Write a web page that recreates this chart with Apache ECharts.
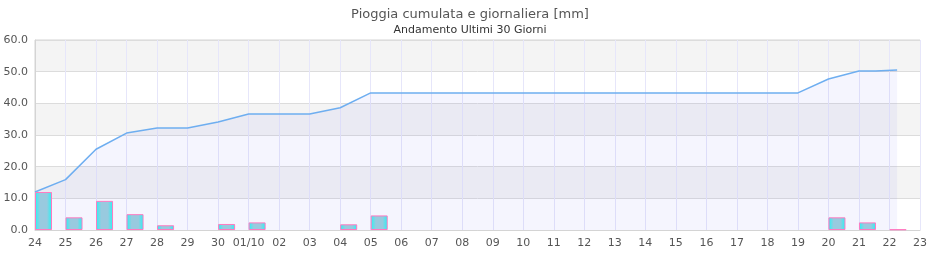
<!DOCTYPE html>
<html>
<head>
<meta charset="utf-8">
<script src="https://cdn.jsdelivr.net/npm/echarts@6/dist/echarts.min.js"></script>
<style>html,body{margin:0;padding:0;background:#fff}#c{width:940px;height:260px}</style>
</head>
<body>
<div id="c"></div>
<script>
// Day labels (24 Sep .. 23 Oct)
const dayLabels = ['24','25','26','27','28','29','30','01/10','02','03','04','05','06','07','08','09','10','11','12','13','14','15','16','17','18','19','20','21','22','23'];
// Daily rain [mm] per day index (null = no rain)
const dailyRain = [12.0,4.0,9.2,5.0,1.5,null,1.9,2.4,null,null,1.8,4.6,null,null,null,null,null,null,null,null,null,null,null,null,null,null,4.0,2.4,0.2];
// Cumulative rain: [day index (fractional = hour of day), mm]
const cumX = [0,1,2,3,4,5,6,7,8,9,10,11,12,13,14,15,16,17,18,19,20,21,22,23,24,25,26,27,27.55,27.6,28.25];
const cumY = [12.0,15.9,25.5,30.6,32.2,32.2,34.1,36.6,36.6,36.6,38.6,43.3,43.3,43.3,43.3,43.3,43.3,43.3,43.3,43.3,43.3,43.3,43.3,43.3,43.3,43.3,47.7,50.2,50.2,50.5,50.5];
const yTicks = [0,10,20,30,40,50,60];

const chart = echarts.init(document.getElementById('c'), null, {renderer:'canvas'});
const font = 'DejaVu Sans';
chart.setOption({
  animation:false,
  title:[
    {text:'Pioggia cumulata e giornaliera [mm]', left:'center', top:3,
     textStyle:{fontFamily:font, fontSize:13, fontWeight:'normal', color:'#555'}},
    {text:'Andamento Ultimi 30 Giorni', left:'center', top:20,
     textStyle:{fontFamily:font, fontSize:11, fontWeight:'normal', color:'#333'}}
  ],
  grid:{left:35, right:20, top:40, bottom:30, show:true, borderColor:'#d4d4d4', borderWidth:1},
  xAxis:{type:'value', min:0, max:dayLabels.length-1, interval:1,
    axisLine:{show:true, lineStyle:{color:'#d4d4d4'}},
    axisTick:{show:false},
    axisLabel:{fontFamily:font, fontSize:11, color:'#555', margin:8,
      formatter:v=>dayLabels[Math.round(v)] || ''},
    splitLine:{show:true, lineStyle:{color:'#e6e6fa', width:1}}
  },
  yAxis:{type:'value', min:yTicks[0], max:yTicks[yTicks.length-1], interval:10,
    axisLine:{show:true, lineStyle:{color:'#d4d4d4'}},
    axisTick:{show:false},
    axisLabel:{fontFamily:font, fontSize:11, color:'#555', margin:7, formatter:v=>v.toFixed(1)},
    splitLine:{show:true, lineStyle:{color:'#dcdcdc'}},
    splitArea:{show:true, areaStyle:{color:['#ffffff','#f4f4f4']}}
  },
  series:[
    {type:'line', data:cumX.map((x,i)=>[x,cumY[i]]), showSymbol:false, symbol:'none',
     lineStyle:{color:'#6eaef0', width:1.5},
     areaStyle:{color:'rgba(110,110,235,0.1)', origin:'start'}, z:2},
    {type:'bar', name:'pad', data:[], barWidth:17, barGap:0, z:3},
    {type:'bar', name:'rain', barWidth:17, barGap:0, z:3,
     data:dailyRain.map((v,i)=>[i,v==null?'-':v]),
     itemStyle:{borderColor:'#ff7ac0', borderWidth:1,
       color:new echarts.graphic.LinearGradient(0,0,1,0,[
         {offset:0,color:'#22f6f6'},{offset:0.3,color:'#98cadf'},
         {offset:0.7,color:'#98cadf'},{offset:1,color:'#22f6f6'}])}}
  ]
});
</script>
</body>
</html>
